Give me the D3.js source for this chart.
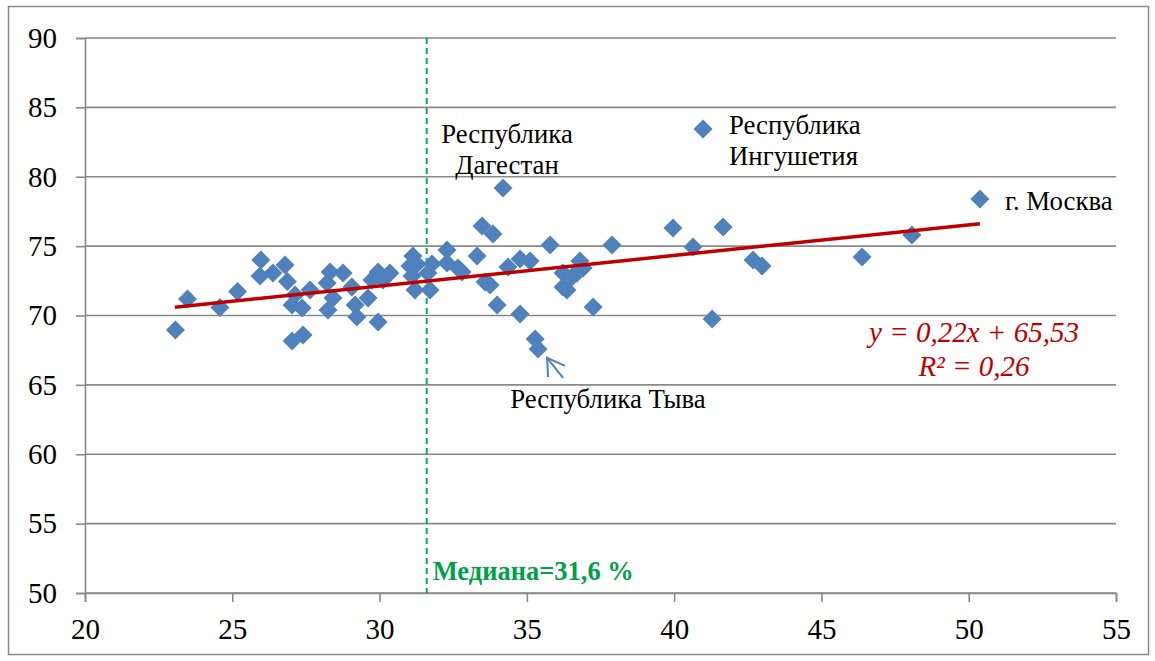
<!DOCTYPE html>
<html>
<head>
<meta charset="utf-8">
<script src="https://cdn.jsdelivr.net/npm/d3@7"></script>
<style>
  body { margin: 0; background: #fff; }
  svg { display: block; }
  svg text { font-family: "Liberation Serif", "DejaVu Serif", serif; }
</style>
</head>
<body>
<svg id="chart" width="1155" height="661"></svg>
<script>
// Unemployment share (x, %) vs. indicator (y) by region
const xValues = [
    23.07, 23.48, 24.58, 25.18, 25.97, 25.94, 26.38, 26.79, 26.87, 27.13,
    27.03, 27.03, 27.40, 27.37, 27.64, 28.32, 28.76, 28.22, 28.42, 28.25,
    29.06, 29.17, 29.23, 29.95, 29.74, 30.12, 29.61, 29.95, 30.35, 31.13,
    31.03, 31.27, 31.10, 31.20, 31.71, 31.78, 31.64, 32.29, 32.29, 32.66,
    32.80, 33.31, 33.58, 33.75, 33.99, 34.77, 34.36, 34.77, 35.11, 35.28,
    35.38, 33.48, 33.85, 34.19, 35.79, 37.89, 37.25, 36.23, 36.23, 36.80,
    36.91, 36.53, 36.36, 36.70, 39.96, 40.64, 41.29, 41.66, 42.68, 42.98,
    46.38, 48.07, 40.98, 50.38
];
const yValues = [
    68.95, 71.19, 70.58, 71.73, 74.00, 72.85, 73.06, 73.64, 72.45, 71.48,
    70.76, 68.16, 68.59, 70.54, 71.84, 73.14, 73.06, 72.34, 71.26, 70.40,
    72.05, 70.76, 69.89, 73.14, 72.56, 72.56, 71.26, 69.53, 73.06, 74.29,
    73.57, 73.71, 72.85, 71.84, 71.84, 73.71, 73.06, 74.72, 73.78, 73.42,
    73.14, 74.29, 72.41, 72.20, 70.76, 70.11, 73.50, 74.07, 73.93, 68.31,
    67.59, 76.45, 75.87, 79.19, 75.08, 75.08, 70.61, 73.06, 72.05, 73.93,
    73.42, 72.77, 71.84, 73.06, 76.31, 74.94, 69.75, 76.38, 74.00, 73.57,
    74.22, 75.80, 83.44, 78.40
];

const xTicks = [20, 25, 30, 35, 40, 45, 50, 55];
const yTicks = [50, 55, 60, 65, 70, 75, 80, 85, 90];

// Trend line y = 0.22x + 65.53 drawn over the data range
const trendSlope = 0.22;
const trendIntercept = 65.53;
const trendRange = [23.05, 50.38];

const medianValue = 31.6;
const medianLabel = "Медиана=31,6 %";
const equationLines = ["y = 0,22x + 65,53", "R² = 0,26"];

// ============================================
// Layout
// ============================================
const svg = d3.select("#chart");
const plot = { left: 85, top: 38, right: 1116, bottom: 593 };
const serif = "'Liberation Serif', 'DejaVu Serif', serif";

const x = d3.scaleLinear().domain([20, 55]).range([plot.left, plot.right]);
const y = d3.scaleLinear().domain([50, 90]).range([plot.bottom, plot.top]);

const gridColor = "#898989";

// outer chart border
svg.append("rect")
    .attr("x", 8.5).attr("y", 6.5)
    .attr("width", 1140).attr("height", 648)
    .attr("fill", "none")
    .attr("stroke", gridColor)
    .attr("stroke-width", 1.5);

// horizontal gridlines
svg.append("g")
    .selectAll("line")
    .data(yTicks)
    .enter()
    .append("line")
    .attr("x1", plot.left).attr("x2", plot.right)
    .attr("y1", d => y(d)).attr("y2", d => y(d))
    .attr("stroke", gridColor)
    .attr("stroke-width", 1.6);

// y axis
const yAxis = svg.append("g")
    .attr("transform", `translate(${plot.left},0)`)
    .call(d3.axisLeft(y).tickValues(yTicks).tickSize(9).tickPadding(19).tickFormat(d3.format("d")));

// x axis
const xAxis = svg.append("g")
    .attr("transform", `translate(0,${plot.bottom})`)
    .call(d3.axisBottom(x).tickValues(xTicks).tickSize(9).tickPadding(16).tickFormat(d3.format("d")));

[yAxis, xAxis].forEach(g => {
    g.attr("font-family", serif).attr("font-size", 29);
    g.select(".domain").attr("stroke", gridColor).attr("stroke-width", 1.6);
    g.selectAll(".tick line").attr("stroke", gridColor).attr("stroke-width", 1.6);
    g.selectAll(".tick text").attr("fill", "#000");
});

// median line
svg.append("line")
    .attr("x1", x(medianValue)).attr("x2", x(medianValue))
    .attr("y1", plot.top).attr("y2", plot.bottom)
    .attr("stroke", "#00B050")
    .attr("stroke-width", 2)
    .attr("stroke-dasharray", "6,4");

svg.append("text")
    .attr("x", x(medianValue) + 6)
    .attr("y", 580)
    .attr("fill", "#00A04A")
    .attr("font-size", 26.5)
    .attr("font-weight", "bold")
    .text(medianLabel);

// data points (diamonds)
const points = d3.zip(xValues, yValues);
const half = 9.5;
svg.append("g")
    .selectAll("path")
    .data(points)
    .enter()
    .append("path")
    .attr("transform", d => `translate(${x(d[0])},${y(d[1])})`)
    .attr("d", `M0,${-half}L${half},0L0,${half}L${-half},0Z`)
    .attr("fill", "#4F81BD");

// trend line
svg.append("line")
    .attr("x1", x(trendRange[0])).attr("y1", y(trendSlope * trendRange[0] + trendIntercept))
    .attr("x2", x(trendRange[1])).attr("y2", y(trendSlope * trendRange[1] + trendIntercept))
    .attr("stroke", "#C00000")
    .attr("stroke-width", 3.5);

// equation
svg.append("text")
    .attr("text-anchor", "middle")
    .attr("fill", "#C00000")
    .attr("font-size", 29)
    .attr("font-style", "italic")
    .selectAll("tspan")
    .data(equationLines)
    .enter()
    .append("tspan")
    .attr("x", 974)
    .attr("y", (d, i) => 342 + i * 34)
    .text(d => d);

// region labels
function addLabel(lines, cx, baseline, anchor) {
    svg.append("text")
        .attr("text-anchor", anchor)
        .attr("fill", "#000")
        .attr("font-size", 26.8)
        .selectAll("tspan")
        .data(lines)
        .enter()
        .append("tspan")
        .attr("x", cx)
        .attr("y", (d, i) => baseline + i * 31)
        .text(d => d);
}
addLabel(["Республика", "Дагестан"], 507, 143, "middle");
addLabel(["Республика", "Ингушетия"], 729, 134, "start");
addLabel(["г. Москва"], 1005, 210, "start");
addLabel(["Республика Тыва"], 608, 408, "middle");

// arrow to Tyva
const tip = [x(35.38) + 9, y(67.59) + 9];
const arrow = svg.append("g")
    .attr("stroke", "#4F81BD")
    .attr("stroke-width", 2)
    .attr("fill", "none");
arrow.append("line")
    .attr("x1", tip[0]).attr("y1", tip[1])
    .attr("x2", tip[0] + 16).attr("y2", tip[1] + 20);
arrow.append("polyline")
    .attr("points", `${tip[0] + 1},${tip[1] + 19} ${tip[0]},${tip[1]} ${tip[0] + 18},${tip[1] + 8}`);
</script>
</body>
</html>
